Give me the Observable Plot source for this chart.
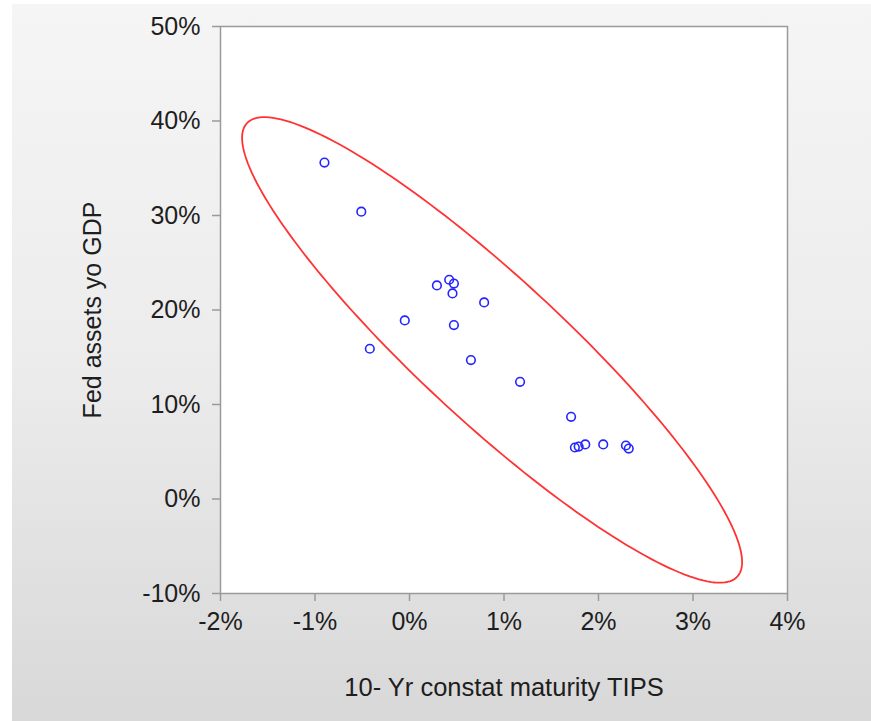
<!DOCTYPE html>
<html>
<head>
<meta charset="utf-8">
<script src="https://cdn.jsdelivr.net/npm/d3@7"></script>
<script src="https://cdn.jsdelivr.net/npm/@observablehq/plot@0.6"></script>
<style>
  html, body { margin: 0; padding: 0; width: 871px; height: 721px; background: #ffffff; overflow: hidden; }
  #bg { position: absolute; left: 12px; top: 4px; right: 0; bottom: 0;
        background: linear-gradient(to bottom, #f5f5f5 0%, #ececec 50%, #d8d8d8 100%); }
  #chart { position: absolute; left: 0; top: 0; }
</style>
</head>
<body>
<div id="bg"></div>
<div id="chart"></div>
<script>
// 10-Yr constant maturity TIPS (%)
const tips = [-0.90, -0.51, -0.42, -0.05, 0.29, 0.42, 0.47, 0.455, 0.47, 0.79, 0.65, 1.17, 1.71, 1.75, 1.79, 1.86, 2.05, 2.29, 2.32];
// Fed assets to GDP (%)
const fedAssets = [35.6, 30.4, 15.9, 18.9, 22.6, 23.2, 22.8, 21.75, 18.4, 20.8, 14.7, 12.4, 8.7, 5.45, 5.55, 5.77, 5.77, 5.66, 5.34];

const xTicks = [-2, -1, 0, 1, 2, 3, 4];
const yTicks = [-10, 0, 10, 20, 30, 40, 50];
const xTitle = "10- Yr constat maturity TIPS";
const yTitle = "Fed assets yo GDP";
// confidence-ellipse scale factor: sqrt(2 * F(0.95; 2, n-2))
const ellipseK = 2.68;

const points = tips.map((x, i) => ({x, y: fedAssets[i]}));

// covariance ellipse derived from the data
const n = points.length;
const mx = d3.mean(tips), my = d3.mean(fedAssets);
let sxx = 0, syy = 0, sxy = 0;
for (const p of points) { sxx += (p.x - mx) ** 2; syy += (p.y - my) ** 2; sxy += (p.x - mx) * (p.y - my); }
sxx /= n - 1; syy /= n - 1; sxy /= n - 1;
const l11 = Math.sqrt(sxx), l21 = sxy / l11, l22 = Math.sqrt(syy - l21 * l21);
const ellipse = d3.range(0, 200).map(i => {
  const t = 2 * Math.PI * i / 200;
  return {x: mx + ellipseK * l11 * Math.cos(t), y: my + ellipseK * (l21 * Math.cos(t) + l22 * Math.sin(t))};
});

const font = "'Liberation Sans', Arial, sans-serif";
const pct = d => `${d}%`;
const ink = "#1e1e1e";

const chart = Plot.plot({
  width: 871,
  height: 721,
  marginLeft: 220,
  marginRight: 84,
  marginTop: 26,
  marginBottom: 128,
  style: {background: "transparent", fontFamily: font, fontSize: "25px", color: ink, overflow: "visible"},
  x: {domain: [-2, 4]},
  y: {domain: [-10, 50]},
  marks: [
    Plot.frame({fill: "white", stroke: "none"}),
    Plot.axisX({ticks: xTicks, tickFormat: pct, tickSize: 8, tickPadding: 11, stroke: "#9a9a9a", strokeWidth: 1.5, fill: ink, fontSize: 25, label: null}),
    Plot.axisY({ticks: yTicks, tickFormat: pct, tickSize: 8, tickPadding: 12, stroke: "#9a9a9a", strokeWidth: 1.5, fill: ink, fontSize: 25, label: null}),
    Plot.line(ellipse, {x: "x", y: "y", curve: "linear-closed", stroke: "#ff3333", strokeWidth: 1.8}),
    Plot.dot(points, {x: "x", y: "y", r: 4.3, stroke: "#2424ff", strokeWidth: 1.6, fill: "none"}),
    Plot.frame({stroke: "#9a9a9a", strokeWidth: 1.5}),
    Plot.text([xTitle], {frameAnchor: "bottom", dy: 94, lineAnchor: "middle", text: d => d, fontSize: 25.5, fill: ink}),
    Plot.text([yTitle], {frameAnchor: "left", dx: -128, rotate: -90, lineAnchor: "middle", textAnchor: "middle", text: d => d, fontSize: 25, fill: ink})
  ]
});
document.getElementById("chart").appendChild(chart);
</script>
</body>
</html>
